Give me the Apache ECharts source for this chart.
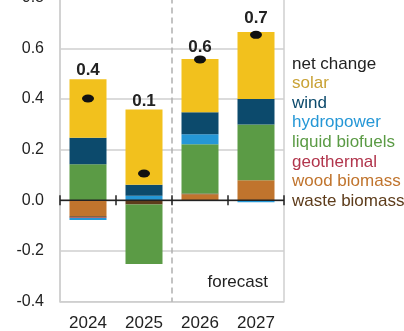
<!DOCTYPE html>
<html>
<head>
<meta charset="utf-8">
<script src="https://cdn.jsdelivr.net/npm/echarts@6/dist/echarts.min.js"></script>
<style>
html,body{margin:0;padding:0;background:#fff;}
#chart{width:404px;height:331px;}
</style>
</head>
<body>
<div id="chart"></div>
<script>
var categories = ['2024', '2025', '2026', '2027'];
var woodBiomass = [-0.063, -0.003, 0.024, 0.079];
var wasteBiomass = [-0.005, -0.013, 0.003, 0];
var geothermal = [-0.002, 0, 0, 0];
var liquidBiofuels = [0.142, -0.235, 0.194, 0.220];
var hydropower = [-0.008, 0.018, 0.040, -0.008];
var wind = [0.105, 0.043, 0.087, 0.101];
var solar = [0.231, 0.297, 0.210, 0.264];
var netChange = [0.402, 0.106, 0.556, 0.653];
var netLabels = ['0.4', '0.1', '0.6', '0.7'];
var yTicks = [-0.4, -0.2, 0.0, 0.2, 0.4, 0.6, 0.8];
var forecastStartIndex = 2;

var FONT = '"Liberation Sans", Arial, sans-serif';
var colors = {
  solar: '#f2c11d', wind: '#0c4a6c', hydropower: '#2597d6',
  liquid: '#5b9b45', geothermal: '#b1354c', wood: '#c0742d', waste: '#5d3c1b'
};
var textColors = {
  net: '#222222', solar: '#c9a235', wind: '#0c4a6c', hydropower: '#2597d6',
  liquid: '#5b9b45', geothermal: '#b1354c', wood: '#c0742d', waste: '#5d3c1b'
};
var labelDistance = [0, 0, 3, 5];

function bar(name, data, color) {
  return {
    name: name, type: 'bar', stack: 'total', data: data, barWidth: 37,
    itemStyle: {color: color}, z: 3,
    emphasis: {disabled: true}
  };
}

var series = [
  {
    name: 'forecastDivider', type: 'custom', z: 1, silent: true,
    data: categories.map(function (c) { return [c, 0]; }),
    renderItem: function (params, api) {
      if (params.dataIndex !== forecastStartIndex) return;
      var p = api.coord([api.value(0), 0]);
      var bw = api.size([1, 0])[0];
      var cs = params.coordSys;
      var x = Math.round(p[0] - bw / 2);
      return {
        type: 'line',
        shape: {x1: x, y1: cs.y, x2: x, y2: cs.y + cs.height},
        style: {stroke: '#b0b0b0', lineWidth: 1.5, lineDash: [6, 4]}
      };
    }
  },
  bar('wood biomass', woodBiomass, colors.wood),
  bar('waste biomass', wasteBiomass, colors.waste),
  bar('geothermal', geothermal, colors.geothermal),
  bar('liquid biofuels', liquidBiofuels, colors.liquid),
  bar('hydropower', hydropower, colors.hydropower),
  bar('wind', wind, colors.wind),
  bar('solar', solar.map(function (v, i) {
    return {value: v, label: {distance: labelDistance[i]}};
  }), colors.solar),
  {
    name: 'zeroLine', type: 'custom', z: 6, silent: true,
    data: categories.map(function (c) { return [c, 0]; }),
    renderItem: function (params, api) {
      var p = api.coord([api.value(0), api.value(1)]);
      var bw = api.size([1, 0])[0];
      var x0 = p[0] - bw / 2, x1 = p[0] + bw / 2, y = p[1];
      var st = {stroke: '#222', lineWidth: 1.5};
      var children = [
        {type: 'line', shape: {x1: x0, y1: y, x2: x1, y2: y}, style: st},
        {type: 'line', shape: {x1: x0, y1: y - 5, x2: x0, y2: y + 5}, style: st}
      ];
      if (params.dataIndex === categories.length - 1) {
        children.push({type: 'line', shape: {x1: x1, y1: y - 5, x2: x1, y2: y + 5}, style: st});
      }
      return {type: 'group', children: children};
    }
  },
  {
    name: 'net change', type: 'scatter', data: netChange,
    symbol: 'circle', symbolSize: [12, 8],
    itemStyle: {color: '#111', opacity: 1}, z: 8,
    emphasis: {disabled: true}
  }
];
series[7].label = {
  show: true, position: 'top',
  formatter: function (p) { return netLabels[p.dataIndex]; },
  fontFamily: FONT, fontSize: 17, fontWeight: 'bold', color: '#222'
};

var legendOrder = [
  ['net change', textColors.net], ['solar', textColors.solar], ['wind', textColors.wind],
  ['hydropower', textColors.hydropower], ['liquid biofuels', textColors.liquid],
  ['geothermal', textColors.geothermal], ['wood biomass', textColors.wood],
  ['waste biomass', textColors.waste]
];

var chart = echarts.init(document.getElementById('chart'), null, {renderer: 'canvas'});
chart.setOption({
  animation: false,
  grid: {
    left: 60, right: 120, top: -2.4, bottom: 29.3,
    containLabel: false, outerBoundsMode: 'none',
    show: true, borderColor: '#cfcfcf', borderWidth: 1.5, backgroundColor: 'transparent'
  },
  legend: {
    orient: 'vertical', left: 282, top: 49.2, itemGap: 0,
    itemWidth: 0, itemHeight: 10, selectedMode: false,
    data: legendOrder.map(function (d) {
      return {name: d[0], icon: 'none', textStyle: {color: d[1]}};
    }),
    textStyle: {fontFamily: FONT, fontSize: 17, lineHeight: 19.6}
  },
  xAxis: {
    type: 'category', data: categories, position: 'bottom',
    axisLine: {show: false, onZero: false}, axisTick: {show: false},
    axisLabel: {fontFamily: FONT, fontSize: 17, color: '#222', margin: 13},
    splitLine: {show: false}
  },
  yAxis: {
    type: 'value', min: yTicks[0], max: yTicks[yTicks.length - 1], interval: 0.2,
    axisLine: {show: true, lineStyle: {color: '#cfcfcf', width: 1.5}},
    axisTick: {show: false},
    axisLabel: {
      fontFamily: FONT, fontSize: 16, color: '#222', margin: 16,
      formatter: function (v) { return v.toFixed(1); }
    },
    splitLine: {show: true, lineStyle: {color: '#cfcfcf', width: 1.5}}
  },
  graphic: [{
    type: 'text', left: 207.5, top: 274,
    style: {text: 'forecast', fontFamily: FONT, fontSize: 17, fill: '#222'}
  }],
  series: series
});
</script>
</body>
</html>
